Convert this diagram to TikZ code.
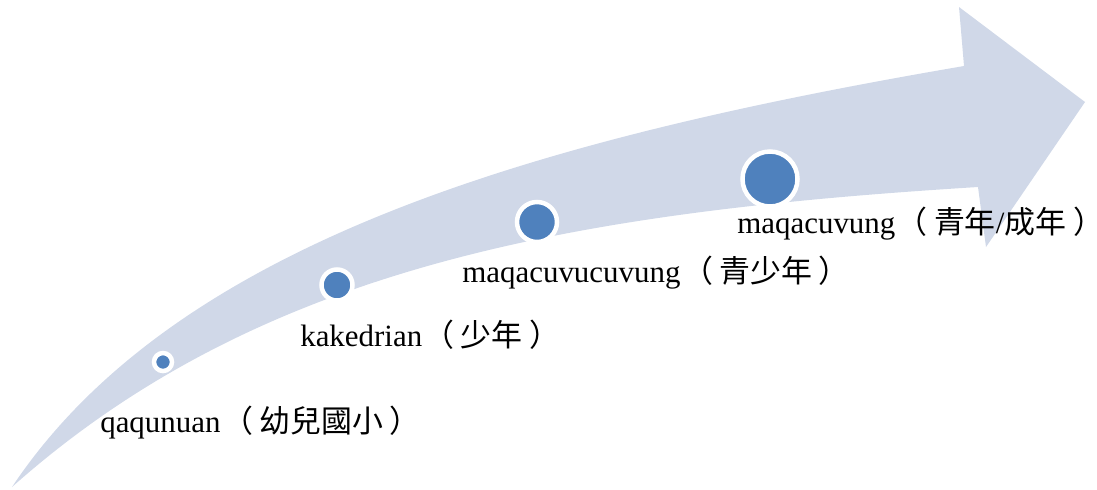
\documentclass[tikz,border=0pt]{standalone}
\usepackage{fontspec}
\setmainfont{Liberation Serif}
\newfontfamily\cjk{Noto Sans CJK TC}
\definecolor{bandaGris}{RGB}{208,216,232}
\definecolor{puntoAzul}{RGB}{79,129,189}
% full-width brackets with the spacing of the original
\newcommand\etapa[1]{{\cjk\kern0.05em（\kern0.2em#1\kern0.22em）}}
\tikzset{
  tl/band/.style={fill=bandaGris, draw=none},
  tl/dot/.style={circle, fill=puntoAzul, draw=white, line width=3.2pt,
    inner sep=0pt},
  tl/lbl/.style={anchor=base west, inner sep=0pt,
    font=\fontsize{22pt}{26pt}\selectfont}
}
\begin{document}
\begin{tikzpicture}[x=0.025cm, y=-0.025cm]
    \useasboundingbox (0,0) rectangle (1097,489);
    % curved arrow
    \fill[tl/band] (12,487) .. controls (177,239.5) and (544,137.8) .. (964,66)
      -- (959,7) -- (1085,102) -- (986,247) -- (978,187)
      .. controls (578,211.8) and (262,264.5) .. (12,487) -- cycle;
    % stages
    \node[tl/dot, minimum size=0.45cm]  (kid)   at (163,362) {};
    \node[tl/dot, minimum size=0.775cm] (child) at (337,285) {};
    \node[tl/dot, minimum size=1cm]     (teen)  at (537,222) {};
    \node[tl/dot, minimum size=1.375cm] (adult) at (770,179) {};
    \node[tl/lbl] (kidLbl)   at (100,432) {qaqunuan\etapa{幼兒國小}};
    \node[tl/lbl] (childLbl) at (300,346) {kakedrian\etapa{少年}};
    \node[tl/lbl] (teenLbl)  at (462,282) {maqacuvucuvung\etapa{青少年}};
    \node[tl/lbl] (adultLbl) at (737,233) {maqacuvung\etapa{青年{\rmfamily/}成年}};
  \end{tikzpicture}
\end{document}
